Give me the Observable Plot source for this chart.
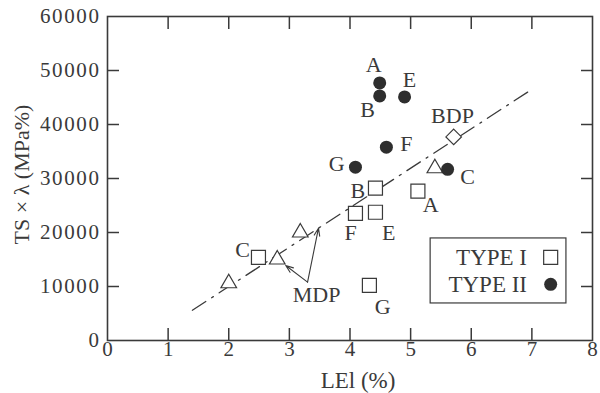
<!DOCTYPE html>
<html>
<head>
<meta charset="utf-8">
<script src="https://cdn.jsdelivr.net/npm/d3@7"></script>
<script src="https://cdn.jsdelivr.net/npm/@observablehq/plot@0.6"></script>
<style>
  html, body { margin: 0; padding: 0; background: #fff; }
  g[aria-label="y-axis tick label"] text { letter-spacing: 1.6px; }
</style>
</head>
<body>
<div id="chart"></div>
<script>
// ---- data ----
const xTicks = [0, 1, 2, 3, 4, 5, 6, 7, 8];
const yTicks = [0, 10000, 20000, 30000, 40000, 50000, 60000];
const xInnerTicks = [1, 2, 3, 4, 5, 6, 7];
const yInnerTicks = [10000, 20000, 30000, 40000, 50000];

// TYPE I (open squares)
const type1Labels = ["A", "B", "C", "E", "F", "G"];
const type1X = [5.12, 4.42, 2.49, 4.42, 4.09, 4.32];
const type1Y = [27650, 28200, 15400, 23750, 23560, 10200];

// TYPE II (filled circles)
const type2Labels = ["A", "B", "C", "E", "F", "G"];
const type2X = [4.49, 4.49, 5.61, 4.90, 4.60, 4.09];
const type2Y = [47700, 45300, 31700, 45100, 35800, 32100];

// MDP (open triangles)
const mdpX = [2.0, 2.8, 3.18, 5.4];
const mdpY = [10600, 15000, 20000, 31900];

// BDP (open diamond)
const bdpX = [5.71];
const bdpY = [37700];

// trend line (dash-dot)
const trendX = [1.4, 6.93];
const trendY = [5600, 46000];

// annotation labels (data coordinates)
const annText = ["A", "B", "E", "F", "G", "C", "B", "A", "F", "E", "C", "G", "MDP", "BDP"];
const annX = [4.39, 4.29, 4.98, 4.93, 3.78, 5.94, 4.13, 5.33, 4.01, 4.64, 2.23, 4.54, 3.45, 5.69];
const annY = [51000, 42700, 48200, 36400, 32650, 30240, 27640, 25050, 19850, 19850, 16700, 6120, 8350, 41560];

// MDP arrows
const arrowX1 = [3.30, 3.30];
const arrowY1 = [10800, 10800];
const arrowX2 = [3.48, 2.94];
const arrowY2 = [20800, 13900];

// legend
const legendLabels = ["TYPE I", "TYPE II"];
const legendY = [15400, 10400];
const legendTextX = 6.92;
const legendSymX = 7.31;
const legendBox = {x1: 5.33, x2: 7.57, y1: 6860, y2: 18900};

const xLabel = "LEl (%)";
const yLabel = "TS × λ (MPa%)";

// ---- build tables ----
const type1 = type1Labels.map((l, i) => ({label: l, x: type1X[i], y: type1Y[i]}));
const type2 = type2Labels.map((l, i) => ({label: l, x: type2X[i], y: type2Y[i]}));
const mdp = mdpX.map((x, i) => ({x, y: mdpY[i]}));
const bdp = bdpX.map((x, i) => ({x, y: bdpY[i]}));
const trend = trendX.map((x, i) => ({x, y: trendY[i]}));
const ann = annText.map((t, i) => ({t, x: annX[i], y: annY[i]}));
const arrows = arrowX1.map((x1, i) => ({x1, y1: arrowY1[i], x2: arrowX2[i], y2: arrowY2[i]}));
const legend = legendLabels.map((l, i) => ({label: l, y: legendY[i]}));

const ink = "#3a3a3a";
const dark = "#2e2e2e";
const tickLen = 12;

const chart = Plot.plot({
  width: 600,
  height: 393,
  marginLeft: 107,
  marginRight: 8,
  marginTop: 16,
  marginBottom: 53,
  style: {fontFamily: "'Liberation Serif', serif", fontSize: "20px", color: ink, background: "#fff"},
  x: {domain: [0, 8]},
  y: {domain: [0, 60000]},
  marks: [
    Plot.frame({stroke: ink, strokeWidth: 1.6}),
    // tick labels
    Plot.axisX(xTicks, {anchor: "bottom", tickSize: 0, tickPadding: 1, tickFormat: d => String(d), label: null, fill: ink, fontSize: 21}),
    Plot.axisY(yTicks, {anchor: "left", tickSize: 0, tickPadding: 7, tickFormat: d => String(d), label: null, fill: ink, fontSize: 21}),
    // inward ticks
    Plot.axisX(xInnerTicks, {anchor: "bottom", tickSize: tickLen, dy: -tickLen, tickFormat: () => "", label: null, stroke: ink, strokeWidth: 1.5}),
    Plot.axisX(xInnerTicks, {anchor: "top", tickSize: tickLen, dy: tickLen, tickFormat: () => "", label: null, stroke: ink, strokeWidth: 1.5}),
    Plot.axisY(yInnerTicks, {anchor: "left", tickSize: tickLen, dx: tickLen, tickFormat: () => "", label: null, stroke: ink, strokeWidth: 1.5}),
    Plot.axisY(yInnerTicks, {anchor: "right", tickSize: tickLen, dx: -tickLen, tickFormat: () => "", label: null, stroke: ink, strokeWidth: 1.5}),
    // axis titles
    Plot.text([xLabel], {frameAnchor: "bottom", textAnchor: "middle", lineAnchor: "middle", dx: 8, dy: 40, fill: ink, fontSize: 23}),
    Plot.text([yLabel], {frameAnchor: "left", textAnchor: "middle", lineAnchor: "middle", dx: -86, dy: -4, rotate: -90, fill: ink, fontSize: 22, letterSpacing: "2.6px"}),
    // trend line
    Plot.line(trend, {x: "x", y: "y", stroke: ink, strokeWidth: 1.3, strokeDasharray: "16,7,2,7"}),
    // arrows
    Plot.arrow(arrows, {x1: "x1", y1: "y1", x2: "x2", y2: "y2", stroke: ink, strokeWidth: 1.1, headLength: 11, headAngle: 40}),
    // markers
    Plot.dot(mdp, {x: "x", y: "y", symbol: "triangle", r: 5.8, stroke: ink, strokeWidth: 1.2, fill: "white"}),
    Plot.dot(bdp, {x: "x", y: "y", symbol: "diamond2", r: 7, stroke: ink, strokeWidth: 1.2, fill: "white"}),
    Plot.dot(type1, {x: "x", y: "y", symbol: "square", r: 7.9, stroke: ink, strokeWidth: 1.2, fill: "white"}),
    Plot.dot(type2, {x: "x", y: "y", symbol: "circle", r: 6.5, fill: dark, stroke: "none"}),
    // annotations
    Plot.text(ann, {x: "x", y: "y", text: "t", fill: ink, fontSize: 22}),
    // legend
    Plot.rect([legendBox], {x1: "x1", x2: "x2", y1: "y1", y2: "y2", fill: "white", stroke: ink, strokeWidth: 1.2}),
    Plot.text(legend, {x: () => legendTextX, y: "y", text: "label", textAnchor: "end", fill: ink, fontSize: 23}),
    Plot.dot(legend.slice(0, 1), {x: () => legendSymX, y: "y", symbol: "square", r: 7.9, fill: "white", stroke: ink, strokeWidth: 1.2}),
    Plot.dot(legend.slice(1, 2), {x: () => legendSymX, y: "y", symbol: "circle", r: 6.5, fill: dark, stroke: "none"})
  ]
});
document.getElementById("chart").appendChild(chart);
</script>
</body>
</html>
